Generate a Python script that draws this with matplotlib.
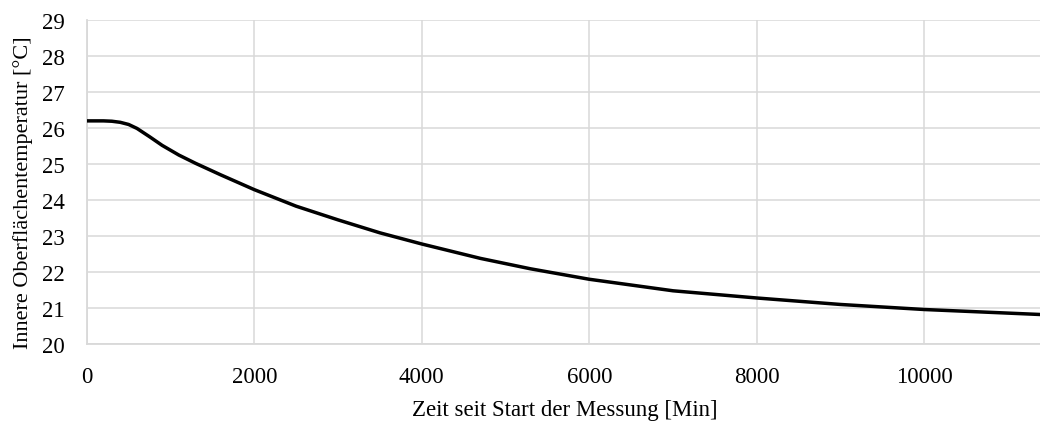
import matplotlib.pyplot as plt

# Zeit seit Start der Messung [Min]
zeit = [0, 200, 300, 400, 500, 600, 750, 900, 1100, 1300, 1600, 2000, 2500,
        3000, 3500, 4000, 4700, 5300, 6000, 7000, 8000, 9000, 10000, 11400]
# Innere Oberflächentemperatur [°C]
temp = [26.19, 26.19, 26.18, 26.15, 26.09, 25.98, 25.75, 25.51, 25.24, 25.01,
        24.69, 24.28, 23.82, 23.44, 23.08, 22.77, 22.37, 22.08, 21.79, 21.47,
        21.27, 21.09, 20.95, 20.81]

x_ticks = [0, 2000, 4000, 6000, 8000, 10000]
y_ticks = list(range(20, 30))

plt.rcParams['font.family'] = ['Liberation Serif', 'DejaVu Serif']

fig = plt.figure(figsize=(10.4, 4.27), dpi=100)
ax = fig.add_axes([0.0834, 0.1927, 0.9166, 0.7588])

grid_col = "#d9d9d9"
ax.plot(zeit, temp, color="black", linewidth=2.5, solid_joinstyle="round", zorder=3)

ax.set_xlim(0, 11380)
ax.set_ylim(20, 29)
ax.set_xticks(x_ticks)
ax.set_yticks(y_ticks)
ax.grid(True, color=grid_col, linewidth=1.1)
ax.set_axisbelow(True)

for side in ["top", "right"]:
    ax.spines[side].set_visible(False)
for side in ["left", "bottom"]:
    ax.spines[side].set_color(grid_col)
    ax.spines[side].set_linewidth(1.3)

ax.tick_params(axis="both", length=0, labelsize=16.5, colors="black")
ax.tick_params(axis="x", pad=16)
ax.tick_params(axis="y", pad=16)

ax.set_xlabel("Zeit seit Start der Messung [Min]", fontsize=16.5)
ax.set_ylabel("Innere Oberflächentemperatur [°C]", fontsize=16)
ax.xaxis.set_label_coords(0.502, -0.172)
ax.yaxis.set_label_coords(-0.056, 0.47)

fig.savefig("out.png", dpi=100)
plt.close(fig)
